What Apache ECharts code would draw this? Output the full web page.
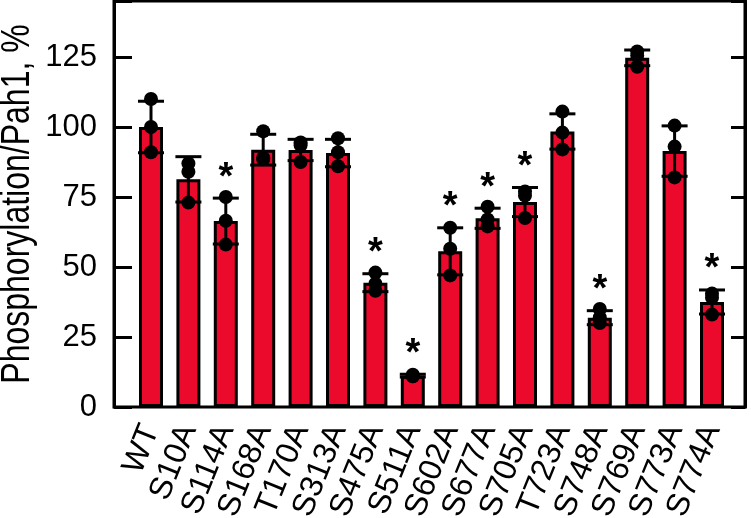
<!DOCTYPE html>
<html>
<head>
<meta charset="utf-8">
<script src="https://cdn.jsdelivr.net/npm/echarts@6/dist/echarts.min.js"></script>
<style>
html,body{margin:0;padding:0;background:#fff;}
#c{width:751px;height:518px;}
</style>
</head>
<body>
<div id="c"></div>
<script>
var categories = ['WT','S10A','S114A','S168A','T170A','S313A','S475A','S511A','S602A','S677A','S705A','T723A','S748A','S769A','S773A','S774A'];
var means = [100, 81.3, 66.4, 91.9, 91.8, 90.7, 44.4, 11.2, 55.6, 67.4, 73.2, 98.4, 31.9, 124.7, 91.4, 37.5];
var sds = [9.2, 8.1, 8.2, 5.5, 3.8, 4.9, 3.2, 0.5, 8.4, 3.6, 5.2, 6.3, 2.5, 2.8, 9.0, 4.3];
var rep1 = [110, 87, 75, 98.5, 94.5, 96, 48, 11.5, 64, 71.5, 77, 105.5, 35, 127, 100.5, 40.5];
var rep2 = [100, 84, 66.5, 89, 93.5, 91, 44, 11, 56.5, 67, 75.5, 98, 32, 125.5, 93, 39];
var rep3 = [91, 73, 58, 88.5, 87.5, 86, 41.5, 11, 47, 64.5, 67.5, 92, 30, 121.5, 82, 33];
var significant = [0,0,1,0,0,0,1,1,1,1,1,0,1,0,0,1];
var yTicks = [0, 25, 50, 75, 100, 125];
var yTitle = 'Phosphorylation/Pah1, %';

var dots = [];
[rep1, rep2, rep3].forEach(function(r){ r.forEach(function(v,i){ dots.push([i, v]); }); });
var errData = means.map(function(m,i){ return [i, m - sds[i], m + sds[i]]; });
var starData = [];
significant.forEach(function(s,i){ if (s) starData.push([i, means[i] + sds[i]]); });

var chart = echarts.init(document.getElementById('c'), null, {renderer:'canvas'});
var FONT = 'Liberation Sans, Arial, sans-serif';
chart.setOption({
  animation: false,
  backgroundColor: '#fff',
  graphic: [
    {type: 'text', x: 18, y: 204, rotation: Math.PI / 2, scaleX: 0.8, scaleY: 1,
     style: {text: yTitle, fontSize: 40, fontFamily: FONT, fill: '#000', align: 'center', verticalAlign: 'middle'}}
  ],
  grid: [
    {left: 114, right: 6, top: 1, bottom: 111, show: true, borderColor: '#000', borderWidth: 3, backgroundColor: 'transparent', outerBoundsMode: 'none', containLabel: false},
    {left: 132.3, right: 20.3, top: 1, bottom: 111, outerBoundsMode: 'none', containLabel: false}
  ],
  xAxis: [
    {gridIndex: 0, type: 'value', min: 0, max: 1, show: false},
    {gridIndex: 1, type: 'category', data: categories, boundaryGap: true,
     axisLine: {show: false}, axisTick: {show: false},
     axisLabel: {rotate: 68, fontSize: 32, color: '#000', fontFamily: FONT, margin: 19, interval: 0, hideOverlap: false}}
  ],
  yAxis: [
    {gridIndex: 0, type: 'value', min: 0, max: 145, interval: 25, position: 'left',
     axisLine: {show: true, lineStyle: {color: '#000', width: 3}},
     axisTick: {show: true, inside: true, length: 18, lineStyle: {color: '#000', width: 3}},
     axisLabel: {fontSize: 31, color: '#000', fontFamily: FONT, margin: 17,
       formatter: function(v){ return yTicks.indexOf(v) >= 0 ? String(v) : ''; }},
     splitLine: {show: false}},
    {gridIndex: 0, type: 'value', min: 0, max: 145, interval: 25, position: 'right',
     axisLine: {show: true, lineStyle: {color: '#000', width: 3}},
     axisTick: {show: true, inside: true, length: 14, lineStyle: {color: '#000', width: 3}},
     axisLabel: {show: false}, splitLine: {show: false}},
    {gridIndex: 1, type: 'value', min: 0, max: 145, show: false}
  ],
  series: [
    {type: 'bar', xAxisIndex: 1, yAxisIndex: 2, data: means, barWidth: 24,
     itemStyle: {color: '#EC0A2C', borderColor: '#000', borderWidth: 3}, z: 2},
    {type: 'custom', xAxisIndex: 1, yAxisIndex: 2, data: errData, z: 3,
     renderItem: function(params, api){
       var x = api.coord([api.value(0), 0])[0];
       var lo = api.coord([api.value(0), api.value(1)])[1];
       var hi = api.coord([api.value(0), api.value(2)])[1];
       var hw = 13;
       var st = {stroke: '#000', lineWidth: 3};
       return {type: 'group', children: [
         {type: 'line', shape: {x1: x, y1: lo, x2: x, y2: hi}, style: st},
         {type: 'line', shape: {x1: x - hw, y1: hi, x2: x + hw, y2: hi}, style: st},
         {type: 'line', shape: {x1: x - hw, y1: lo, x2: x + hw, y2: lo}, style: st}
       ]};
     }},
    {type: 'scatter', xAxisIndex: 1, yAxisIndex: 2, data: dots, symbol: 'circle', symbolSize: 14,
     itemStyle: {color: '#000', opacity: 1}, z: 4},
    {type: 'custom', xAxisIndex: 1, yAxisIndex: 2, data: starData, z: 5,
     renderItem: function(params, api){
       var p = api.coord([api.value(0), api.value(1)]);
       return {type: 'text', x: p[0], y: p[1] - 20,
         style: {text: '*', fontSize: 38, fontWeight: 'bold', fontFamily: FONT, fill: '#000', align: 'center', verticalAlign: 'middle'}};
     }}
  ]
});
</script>
</body>
</html>
